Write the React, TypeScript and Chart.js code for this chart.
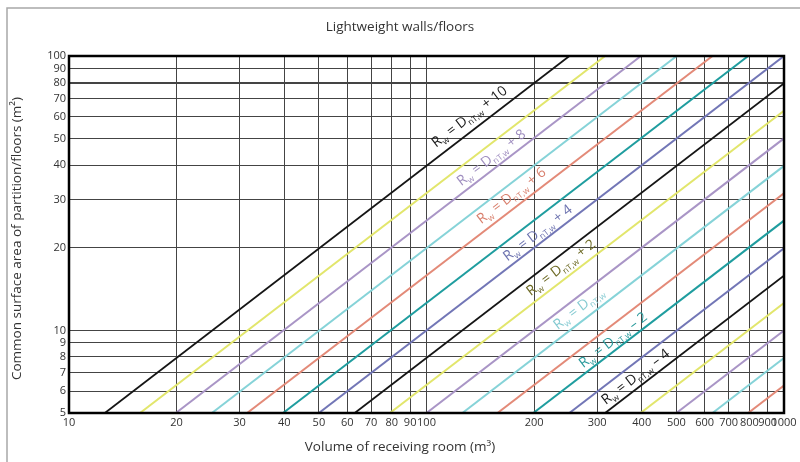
import React, { useEffect, useRef } from "react";
import { Chart, registerables } from "chart.js";

Chart.register(...registerables);

const titleText = "Lightweight walls/floors";
const xTitle = "Volume of receiving room (m³)";
const yTitle = "Common surface area of partition/floors (m²)";

const xTicks = [10, 20, 30, 40, 50, 60, 70, 80, 90, 100, 200, 300, 400, 500, 600, 700, 800, 900, 1000];
const yTicks = [5, 6, 7, 8, 9, 10, 20, 30, 40, 50, 60, 70, 80, 90, 100];

// Rw - DnT,w offsets (dB) of each diagonal line
const lineOffsets = [10, 9, 8, 7, 6, 5, 4, 3, 2, 1, 0, -1, -2, -3, -4, -5, -6, -7, -8];
// volume where each line meets S = 5 m²
const lineStartV = [12.6, 15.8, 19.9, 25.1, 31.5, 39.7, 50, 63, 79, 100, 126, 158, 199, 251, 316, 397, 500, 631, 794];
// volume where each line meets S = 100 m²
const lineEndV = [251, 316, 398, 501, 631, 794, 1000, 1259, 1585, 1995, 2512, 3162, 3981, 5012, 6310, 7943, 10000, 12589, 15849];
const lineStartS = 5;
const lineEndS = 100;

const palette = ["#151515", "#e2e66c", "#a995c6", "#86d3d8", "#e38a78", "#1f9d9f", "#7276b6"];

// line labels
const labelOffsets = [10, 8, 6, 4, 2, 0, -2, -4];
const labelV = [132, 152, 173, 205, 238, 267, 333, 385];
const labelS = [60, 42.5, 30.9, 22.6, 16.9, 12.0, 9.2, 6.76];
const labelColors = ["#1a1a1a", "#a08fc0", "#d9806e", "#6e74b0", "#6d6a25", "#86cbd2", "#2a9a9c", "#1a1a1a"];

const FONT = "'Open Sans', 'DejaVu Sans', sans-serif";

const decorPlugin = {
  id: "decor",
  afterDatasetsDraw(chart: any) {
    const { ctx, scales, chartArea } = chart;
    const xs = scales.x;
    const ys = scales.y;
    const p1x = xs.getPixelForValue(10), p1y = ys.getPixelForValue(10);
    const p2x = xs.getPixelForValue(100), p2y = ys.getPixelForValue(100);
    const ang = Math.atan2(p1y - p2y, p2x - p1x);

    labelOffsets.forEach((off, i) => {
      const cx = xs.getPixelForValue(labelV[i]);
      const cy = ys.getPixelForValue(labelS[i]);
      const suffix = off === 0 ? "" : off > 0 ? ` + ${off}` : ` \u2013 ${Math.abs(off)}`;
      const pieces = [
        { t: "R", sub: false },
        { t: "w", sub: true },
        { t: " = D", sub: false },
        { t: "nT,w", sub: true },
        { t: suffix, sub: false },
      ];
      const mainFont = `14px ${FONT}`;
      const subFont = `8.5px ${FONT}`;
      ctx.save();
      ctx.translate(cx, cy);
      ctx.rotate(-ang);
      ctx.fillStyle = labelColors[i];
      ctx.textBaseline = "middle";
      ctx.textAlign = "left";
      let total = 0;
      pieces.forEach((p) => {
        ctx.font = p.sub ? subFont : mainFont;
        total += ctx.measureText(p.t).width;
      });
      let x = -total / 2;
      pieces.forEach((p) => {
        ctx.font = p.sub ? subFont : mainFont;
        ctx.fillText(p.t, x, p.sub ? 5 : 0);
        x += ctx.measureText(p.t).width;
      });
      ctx.restore();
    });

    // plot border
    ctx.save();
    ctx.strokeStyle = "#000";
    ctx.lineWidth = 2.5;
    ctx.strokeRect(chartArea.left, chartArea.top, chartArea.right - chartArea.left, chartArea.bottom - chartArea.top);
    ctx.restore();
  },
  afterDraw(chart: any) {
    const { ctx, scales, chartArea } = chart;
    const xs = scales.x;
    const ys = scales.y;
    ctx.save();
    // outer frame
    ctx.strokeStyle = "#a8a8a8";
    ctx.lineWidth = 1.5;
    ctx.beginPath();
    ctx.moveTo(7, 470);
    ctx.lineTo(7, 8);
    ctx.lineTo(810, 8);
    ctx.stroke();

    ctx.fillStyle = "#333";
    // title
    ctx.font = `13.5px ${FONT}`;
    ctx.textAlign = "center";
    ctx.textBaseline = "middle";
    ctx.fillText(titleText, 400, 27);

    // x tick labels
    ctx.font = `11px ${FONT}`;
    ctx.textAlign = "center";
    ctx.textBaseline = "middle";
    xTicks.forEach((v) => {
      ctx.fillText(String(v), xs.getPixelForValue(v), chartArea.bottom + 10);
    });
    // y tick labels
    ctx.textAlign = "right";
    yTicks.forEach((v) => {
      ctx.fillText(String(v), chartArea.left - 3, ys.getPixelForValue(v));
    });

    // axis titles
    ctx.font = `13.5px ${FONT}`;
    ctx.textAlign = "center";
    ctx.fillText(xTitle, 400, 447);
    ctx.save();
    ctx.translate(17, (chartArea.top + chartArea.bottom) / 2 + 4);
    ctx.rotate(-Math.PI / 2);
    ctx.fillText(yTitle, 0, 0);
    ctx.restore();
    ctx.restore();
  },
};

export default function App() {
  const ref = useRef<HTMLCanvasElement | null>(null);
  useEffect(() => {
    if (!ref.current) return;
    const datasets = lineOffsets.map((off, i) => ({
      label: `Rw = DnT,w ${off >= 0 ? "+" : "-"} ${Math.abs(off)}`,
      data: [
        { x: lineStartV[i], y: lineStartS },
        { x: lineEndV[i], y: lineEndS },
      ],
      borderColor: palette[i % palette.length],
      borderWidth: i % palette.length === 0 ? 1.8 : 2,
      pointRadius: 0,
      fill: false,
      tension: 0,
      clip: 0,
    }));
    const chart = new Chart(ref.current, {
      type: "line",
      data: { datasets },
      options: {
        animation: false,
        responsive: false,
        devicePixelRatio: 1,
        layout: { padding: { top: 56, right: 16, left: 0, bottom: 0 } },
        plugins: { legend: { display: false }, tooltip: { enabled: false }, title: { display: false } },
        scales: {
          x: {
            type: "logarithmic",
            min: 10,
            max: 1000,
            afterBuildTicks: (s: any) => {
              s.ticks = xTicks.map((v) => ({ value: v }));
            },
            afterFit: (s: any) => {
              s.height = 49;
            },
            ticks: { display: false },
            border: { display: false },
            grid: { color: "#444", lineWidth: 1, drawTicks: false },
          },
          y: {
            type: "logarithmic",
            min: 5,
            max: 100,
            afterBuildTicks: (s: any) => {
              s.ticks = yTicks.map((v) => ({ value: v }));
            },
            afterFit: (s: any) => {
              s.width = 69;
            },
            ticks: { display: false },
            border: { display: false },
            grid: {
              color: "#444",
              lineWidth: (c: any) => (c.tick && c.tick.value === 80 ? 2 : 1),
              drawTicks: false,
            },
          },
        },
      },
      plugins: [decorPlugin],
    } as any);
    return () => chart.destroy();
  }, []);
  return (
    <div style={{ position: "fixed", left: 0, top: 0, width: 800, height: 462, background: "#fff" }}>
      <canvas ref={ref} width={800} height={462} style={{ display: "block" }} />
    </div>
  );
}
